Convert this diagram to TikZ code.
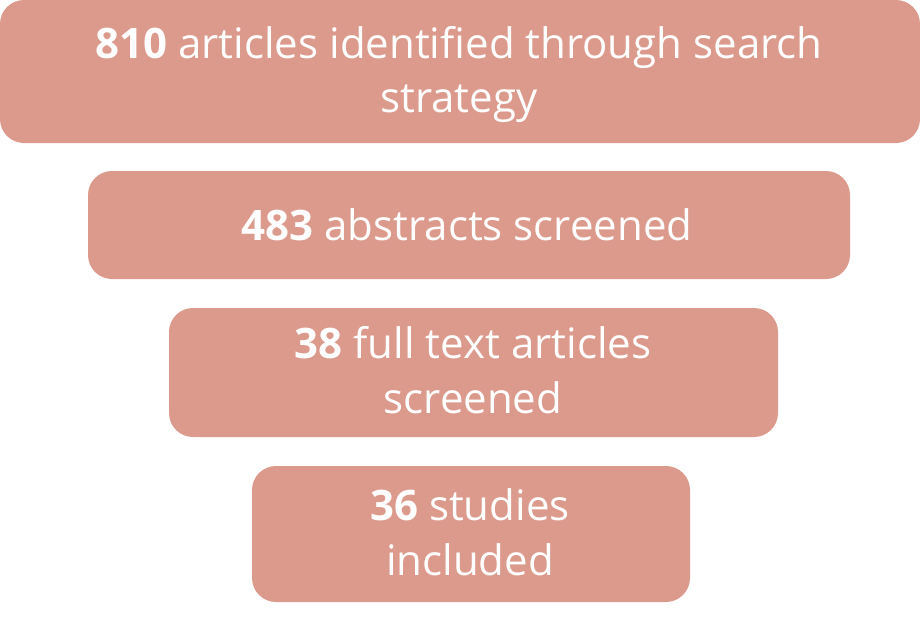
\documentclass[tikz,border=0pt]{standalone}
\usepackage{fontspec}
\setmainfont{Open Sans}
\definecolor{boxfill}{HTML}{DC9A8C}
\begin{document}
\begin{tikzpicture}[x=1pt,y=-1pt,
  stagebox/.style={fill=boxfill, draw=none, rounded corners=24pt, inner sep=0pt},
  line/.style={anchor=base, text=white, inner sep=0pt, font=\fontsize{42}{54}\selectfont}]
\useasboundingbox (0,0) rectangle (920,616);
\node[stagebox, minimum width=920pt, minimum height=143pt] (b1) at (460,71.5) {};
\node[stagebox, minimum width=762pt, minimum height=108pt] (b2) at (469,225) {};
\node[stagebox, minimum width=609pt, minimum height=129pt] (b3) at (473.5,372.5) {};
\node[stagebox, minimum width=438pt, minimum height=136pt] (b4) at (471,534) {};
\node[line] (t1a) at (459,58) {\textbf{810} articles identified through search};
\node[line] (t1b) at (459,112) {strategy};
\node[line] (t2) at (467,240) {\textbf{483} abstracts screened};
\node[line] (t3a) at (473,358) {\textbf{38} full text articles};
\node[line] (t3b) at (473,413) {screened};
\node[line] (t4a) at (470,520) {\textbf{36} studies};
\node[line] (t4b) at (470,575) {included};
\end{tikzpicture}
\end{document}
